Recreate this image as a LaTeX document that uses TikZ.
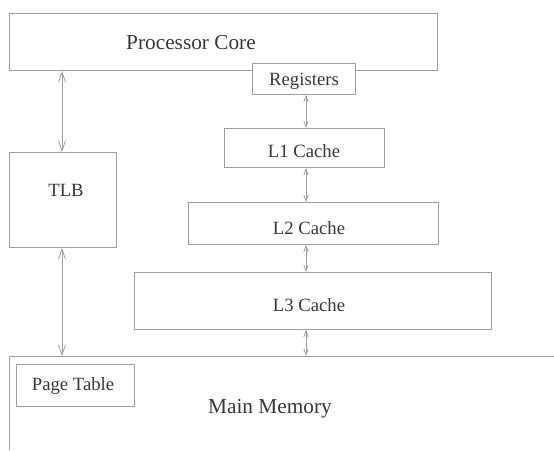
\documentclass[tikz,border=0pt]{standalone}
\usepackage{fontspec}
\setmainfont{Liberation Serif}
\usetikzlibrary{arrows.meta}
\definecolor{linec}{gray}{0.62}
\definecolor{textc}{gray}{0.22}
\begin{document}
\begin{tikzpicture}[x=1pt,y=-1pt,
  box/.style={draw=linec,line width=0.9pt,rectangle,inner sep=0pt,anchor=north west},
  lbl/.style={text=textc,font=\fontsize{18.7}{20}\selectfont,inner sep=0pt},
  biglbl/.style={text=textc,font=\fontsize{21.3}{23}\selectfont,inner sep=0pt},
  bigarr/.style={draw=linec,line width=0.8pt,{Straight Barb[length=10pt,width=7pt]}-{Straight Barb[length=10pt,width=7pt]}},
  smallarr/.style={draw=linec,line width=0.8pt,{Straight Barb[length=6pt,width=4.5pt]}-{Straight Barb[length=6pt,width=4.5pt]}}]
\useasboundingbox[fill=white] (0,0) rectangle (554,450);
% boxes
\node[box,minimum width=428pt,minimum height=57pt] (pc) at (9,13) {};
\node[box,minimum width=103pt,minimum height=31pt,fill=white] (reg) at (252,63) {};
\node[box,minimum width=160pt,minimum height=39pt] (l1) at (224,128) {};
\node[box,minimum width=250pt,minimum height=42pt] (l2) at (188,202) {};
\node[box,minimum width=357pt,minimum height=57pt] (l3) at (134,272) {};
\node[box,minimum width=107pt,minimum height=95pt] (tlb) at (9,152) {};
\node[box,minimum width=118pt,minimum height=42pt] (pt) at (16,364) {};
% main memory (open to the right and bottom)
\coordinate (mmbl) at (9,450);
\coordinate (mmtl) at (9,356);
\coordinate (mmtr) at (554,356);
\draw[draw=linec,line width=0.9pt] (mmbl) -- (mmtl) -- (mmtr);
\coordinate (mmtlb) at (62,356);
\coordinate (mmcache) at (306,356);
% labels
\node[biglbl] (pctext) at (191,43) {Processor Core};
\node[lbl] (regtext) at (304,81) {Registers};
\node[lbl] (l1text) at (304,151) {L1 Cache};
\node[lbl] (l2text) at (309,228) {L2 Cache};
\node[lbl] (l3text) at (309,305) {L3 Cache};
\node[lbl] (tlbtext) at (66,190) {TLB};
\node[lbl] (pttext) at (73,386) {Page Table};
\node[biglbl] (mmtext) at (270,409) {Main Memory};
% connectors
\coordinate (ta) at (62,0);
\coordinate (ca) at (306,0);
\draw[bigarr] (pc.south -| ta) -- (tlb.north -| ta);
\draw[bigarr] (tlb.south -| ta) -- (mmtlb);
\draw[smallarr] (reg.south -| ca) -- (l1.north -| ca);
\draw[smallarr] (l1.south -| ca) -- (l2.north -| ca);
\draw[smallarr] (l2.south -| ca) -- (l3.north -| ca);
\draw[smallarr] (l3.south -| ca) -- (mmcache);
\end{tikzpicture}
\end{document}
